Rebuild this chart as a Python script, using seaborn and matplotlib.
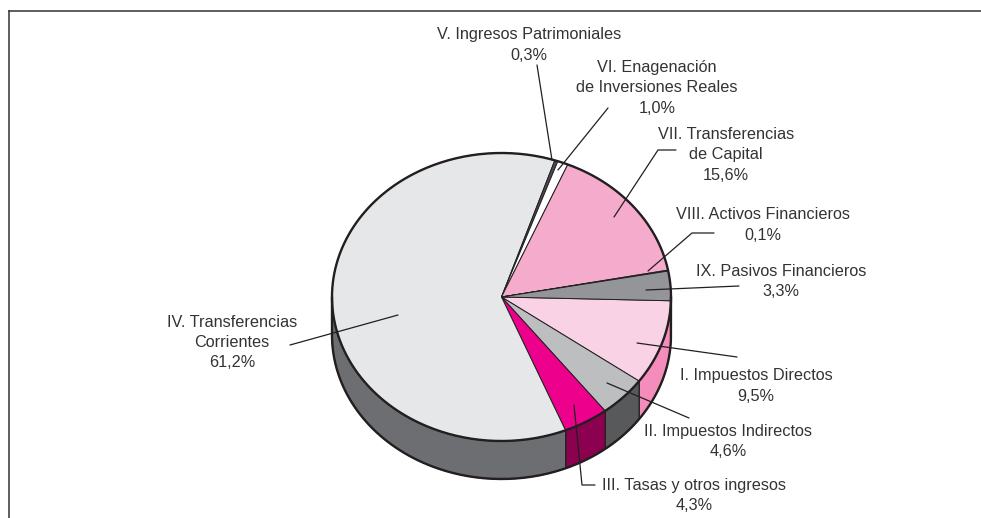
# -*- coding: utf-8 -*-
# Tarta en perspectiva: ingresos por capitulos
import numpy as np
import seaborn as sns
import matplotlib
matplotlib.use('Agg')
import matplotlib.pyplot as plt

# Datos
nombres = ['I. Impuestos Directos', 'II. Impuestos Indirectos', 'III. Tasas y otros ingresos',
           'IV. Transferencias\nCorrientes', 'V. Ingresos Patrimoniales',
           'VI. Enagenación\nde Inversiones Reales', 'VII. Transferencias\nde Capital',
           'VIII. Activos Financieros', 'IX. Pasivos Financieros']
valores = [9.5, 4.6, 4.3, 61.2, 0.3, 1.0, 15.6, 0.1, 3.3]
colores_arriba = ['#f9d3e5', '#bcbec0', '#ec008c', '#e6e7e8', '#4d4d4f',
                  '#ffffff', '#f4abcc', '#ffffff', '#939598']
colores_lado = ['#f48cbc', '#58595b', '#8c0050', '#6d6e71', '#4d4d4f',
                '#ffffff', '#f4abcc', '#ffffff', '#939598']

# Posicion de los textos y lineas guia, en pixeles de la imagen
pos_texto = [(756, 386), (728.5, 441.5), (694, 495.5), (232, 342.5), (529, 45),
             (657, 88), (726, 155), (762.5, 225), (781, 281.5)]
guias = [[(637, 343), (737, 357)],
         [(607, 383), (689, 418)],
         [(574, 405), (582, 485), (595, 485)],
         [(398, 315), (290, 345)],
         [(537, 65), (552, 160)],
         [(608, 108), (558, 170)],
         [(676, 150), (658, 150), (614, 217)],
         [(714, 233), (692, 233), (648, 271)],
         [(739, 286), (646, 290)]]

W, H = 981, 518
cx, cy, rx, ry = 501.5, 297, 169.5, 144
prof = 38 / ry
inicio = -1.5
negro = '#231f20'

sns.set_theme(style='white')
plt.rcParams['font.family'] = ['Liberation Sans', 'DejaVu Sans']


def a_datos(p):
    return (p[0] - cx) / rx, (cy - p[1]) / ry


fig = plt.figure(figsize=(W / 100, H / 100), dpi=100)
x0, y0 = 8.5, 11
ax = fig.add_axes([x0 / W, 0, 1 - x0 / W, 1 - y0 / H])

ax.pie(valores, colors=colores_arriba, startangle=inicio, counterclock=False, radius=1,
       wedgeprops={'edgecolor': negro, 'linewidth': 0.7, 'zorder': 3})
ax.set_aspect('auto')
ax.set_xlim((x0 - cx) / rx, (W - cx) / rx)
ax.set_ylim((cy - H) / ry, (cy - y0) / ry)

# Pared lateral, solo la mitad de delante
angulos = inicio - np.cumsum([0] + valores) * 3.6
for i, color in enumerate(colores_lado):
    a1, a2 = angulos[i], angulos[i + 1]
    b1, b2 = min(a1, 0), max(a2, -180)
    if b1 <= b2:
        continue
    t = np.radians(np.linspace(b1, b2, 80))
    xs = np.r_[np.cos(t), np.cos(t[::-1])]
    ys = np.r_[np.sin(t), np.sin(t[::-1]) - prof]
    ax.fill(xs, ys, facecolor=color, edgecolor=negro, linewidth=0.9, zorder=2)

# Contornos gruesos
t = np.radians(np.linspace(0, 360, 400))
ax.plot(np.cos(t), np.sin(t), color=negro, lw=1.7, zorder=4)
t = np.radians(np.linspace(0, -180, 200))
ax.plot(np.r_[1, np.cos(t), -1], np.r_[0, np.sin(t) - prof, 0], color=negro, lw=1.7, zorder=4)

# Lineas guia y etiquetas
for guia in guias:
    puntos = np.array([a_datos(p) for p in guia])
    ax.plot(puntos[:, 0], puntos[:, 1], color=negro, lw=0.9, zorder=5)

for nombre, valor, p in zip(nombres, valores, pos_texto):
    texto = nombre + '\n' + f'{valor:.1f}'.replace('.', ',') + '%'
    ax.text(*a_datos(p), texto, ha='center', va='center', fontsize=11.7,
            color='#333333', linespacing=1.43, zorder=6)

# Marco: solo arriba e izquierda
ax.set_frame_on(True)
for lado in ['right', 'bottom']:
    ax.spines[lado].set_visible(False)
for lado in ['left', 'top']:
    ax.spines[lado].set_visible(True)
    ax.spines[lado].set_color('#333333')
    ax.spines[lado].set_linewidth(1.1)

fig.savefig('out.png', dpi=100, facecolor='white')
